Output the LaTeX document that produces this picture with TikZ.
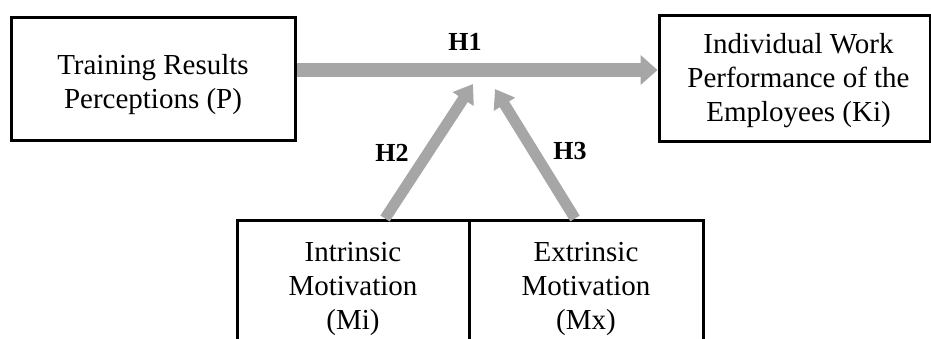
\documentclass[tikz,border=0pt]{standalone}
\usepackage{fontspec}
\setmainfont{Liberation Serif}
\usetikzlibrary{arrows.meta}
\definecolor{arrowgray}{HTML}{A6A6A6}
\tikzset{
  box/.style={draw=black, line width=3pt, inner sep=0pt},
  boxtext/.style={align=center, inner sep=0pt, font=\fontsize{29}{34}\selectfont},
  hlabel/.style={font=\fontsize{26}{30}\selectfont\bfseries},
  bigarrow/.style={draw=arrowgray, line width=14pt, -{Triangle[length=17pt,width=29pt]}},
  diagarrow/.style={draw=arrowgray, line width=11pt, -{Triangle[length=18pt,width=24pt]}}
}
\begin{document}
\begin{tikzpicture}[x=1pt,y=-1pt]
\useasboundingbox (0,0) rectangle (931,338);
\clip (0,0) rectangle (931,338);
\node[box, minimum width=284pt, minimum height=123pt] (P) at (153,78.5) {};
\node[boxtext] (Pt) at ([yshift=-6pt]P.center) {Training Results\\Perceptions (P)};
\node[box, minimum width=271pt, minimum height=126pt] (Ki) at (794.5,78) {};
\node[boxtext] (Kit) at ([xshift=4pt,yshift=-3pt]Ki.center) {Individual Work\\Performance of the\\Employees (Ki)};
\node[box, minimum width=232pt, minimum height=132pt] (Mi) at (353,286) {};
\node[boxtext] (Mit) at ([yshift=-3pt]Mi.center) {Intrinsic\\Motivation\\(Mi)};
\node[box, minimum width=234pt, minimum height=132pt] (Mx) at (586,286) {};
\node[boxtext] (Mxt) at ([yshift=-3pt]Mx.center) {Extrinsic\\Motivation\\(Mx)};
\coordinate (t2) at (473,84);
\coordinate (t3) at (495,89);
\draw[bigarrow] ([yshift=8.5pt]P.east) -- ([yshift=8pt]Ki.west);
\draw[diagarrow] ([xshift=32pt]Mi.north) -- (t2);
\draw[diagarrow] ([xshift=-11pt]Mx.north) -- (t3);
\node[hlabel] (h1) at (465,42) {H1};
\node[hlabel] (h2) at (392,153) {H2};
\node[hlabel] (h3) at (570,151) {H3};
\end{tikzpicture}
\end{document}
